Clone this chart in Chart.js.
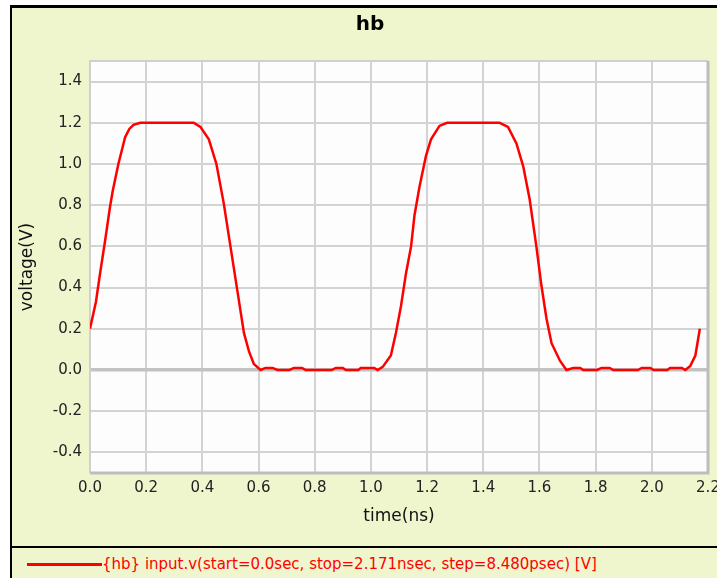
<!DOCTYPE html>
<html>
<head>
<meta charset="utf-8">
<script src="https://cdn.jsdelivr.net/npm/chart.js@4.4.1/dist/chart.umd.min.js"></script>
<style>
  html, body { margin: 0; padding: 0; background: #fff; }
  body { width: 717px; height: 578px; position: relative; overflow: hidden; font-family: "DejaVu Sans", sans-serif; }
  .frame { position: absolute; left: 10px; top: 5px; right: 0; bottom: 0; background: #eff5cc;
           border-top: 3px solid #000; border-left: 2px solid #000; }
  .sep { position: absolute; left: 12px; right: 0; top: 546px; height: 2px; background: #000; }
  #chart { position: absolute; left: 0; top: 0; }
  .legend { position: absolute; left: 27px; top: 554px; height: 20px; display: flex; align-items: center;
            color: #ff0000; font-size: 15px; white-space: nowrap; }
  .legend .swatch { width: 75px; height: 3px; background: #ff0000; }
</style>
</head>
<body>
<div class="frame"></div>
<div class="sep"></div>
<canvas id="chart" width="717" height="546"></canvas>
<div class="legend"><span class="swatch"></span><span>{hb} input.v(start=0.0sec, stop=2.171nsec, step=8.480psec) [V]</span></div>
<script>
// waveform (time in ns, voltage in V)
const timeNs = [0.000, 0.021, 0.036, 0.054, 0.071, 0.081, 0.101, 0.125, 0.140, 0.155, 0.179, 0.369, 0.393, 0.423, 0.450,
  0.476, 0.500, 0.524, 0.548, 0.566, 0.583, 0.607, 0.625, 0.650, 0.667, 0.710, 0.726, 0.755, 0.768, 0.860, 0.875,
  0.900, 0.911, 0.955, 0.964, 1.012, 1.024, 1.042, 1.071, 1.089, 1.107, 1.125, 1.143, 1.155, 1.173, 1.196, 1.214,
  1.244, 1.271, 1.458, 1.488, 1.518, 1.542, 1.565, 1.589, 1.607, 1.625, 1.643, 1.673, 1.696, 1.720, 1.745, 1.756,
  1.805, 1.821, 1.850, 1.863, 1.950, 1.964, 1.995, 2.006, 2.055, 2.065, 2.107, 2.119, 2.137, 2.155, 2.171];
const voltage = [0.20, 0.33, 0.47, 0.63, 0.79, 0.87, 1.00, 1.13, 1.17, 1.19, 1.20, 1.20, 1.18, 1.12, 1.00,
  0.81, 0.60, 0.39, 0.18, 0.09, 0.03, 0.00, 0.01, 0.01, 0.00, 0.00, 0.01, 0.01, 0.00, 0.00, 0.01,
  0.01, 0.00, 0.00, 0.01, 0.01, 0.00, 0.015, 0.07, 0.18, 0.31, 0.47, 0.60, 0.75, 0.89, 1.04, 1.12,
  1.185, 1.20, 1.20, 1.18, 1.10, 0.99, 0.83, 0.60, 0.41, 0.25, 0.13, 0.045, 0.00, 0.01, 0.01, 0.00,
  0.00, 0.01, 0.01, 0.00, 0.00, 0.01, 0.01, 0.00, 0.00, 0.01, 0.01, 0.00, 0.02, 0.07, 0.20];

const xTicks = [0.0, 0.2, 0.4, 0.6, 0.8, 1.0, 1.2, 1.4, 1.6, 1.8, 2.0, 2.2];
const yTicks = [-0.4, -0.2, 0.0, 0.2, 0.4, 0.6, 0.8, 1.0, 1.2, 1.4];

const plotFrame = {
  id: 'plotFrame',
  beforeDraw(chart) {
    const { ctx, chartArea: a } = chart;
    ctx.save();
    ctx.fillStyle = '#fdfdfd';
    ctx.fillRect(a.left, a.top, a.right - a.left, a.bottom - a.top);
    ctx.restore();
  },
  beforeDatasetsDraw(chart) {
    const { ctx, chartArea: a } = chart;
    ctx.save();
    ctx.strokeStyle = '#d0d0d0';
    ctx.lineWidth = 2;
    ctx.beginPath();
    ctx.moveTo(a.left, a.bottom);
    ctx.lineTo(a.left, a.top);
    ctx.lineTo(a.right, a.top);
    ctx.stroke();
    ctx.strokeStyle = '#bdbdbd';
    ctx.lineWidth = 3;
    ctx.beginPath();
    ctx.moveTo(a.right, a.top);
    ctx.lineTo(a.right, a.bottom);
    ctx.lineTo(a.left, a.bottom);
    ctx.stroke();
    ctx.restore();
  }
};

const tickFont = { family: 'DejaVu Sans', size: 15 };
const titleFont = { family: 'DejaVu Sans', size: 17 };

new Chart(document.getElementById('chart'), {
  type: 'line',
  data: {
    datasets: [{
      label: 'input.v',
      data: timeNs.map((t, i) => ({ x: t, y: voltage[i] })),
      borderColor: '#ff0000',
      borderWidth: 2.5,
      pointRadius: 0,
      tension: 0,
      fill: false
    }]
  },
  options: {
    responsive: false,
    animation: false,
    devicePixelRatio: 1,
    layout: { padding: { left: 32, right: 9, top: 0, bottom: 0 } },
    plugins: {
      legend: { display: false },
      tooltip: { enabled: false },
      title: {
        display: true,
        text: 'hb',
        color: '#000',
        font: { family: 'DejaVu Sans', size: 20, weight: 'bold' },
        padding: { top: 13, bottom: 24 }
      }
    },
    scales: {
      x: {
        type: 'linear',
        min: 0,
        max: 2.2,
        afterBuildTicks: s => { s.ticks = xTicks.map(v => ({ value: v })); },
        afterFit: s => { s.height = 73; s.paddingLeft = 0; s.paddingRight = 0; },
        ticks: { color: '#222', font: tickFont, padding: 6, maxRotation: 0, autoSkip: false,
                 callback: v => Number(v).toFixed(1) },
        grid: { color: '#d3d3d3', lineWidth: 2, drawTicks: false },
        border: { display: false },
        title: { display: true, text: 'time(ns)', color: '#111', font: titleFont, padding: { top: 0, bottom: 19 } }
      },
      y: {
        min: -0.5,
        max: 1.5,
        afterBuildTicks: s => { s.ticks = yTicks.map(v => ({ value: v })); },
        afterFit: s => { s.width = 58; },
        ticks: { color: '#222', font: tickFont, padding: 8, callback: v => Number(v).toFixed(1) },
        grid: {
          drawTicks: false,
          color: c => (c.tick && c.tick.value === 0 ? '#c2c2c2' : '#d3d3d3'),
          lineWidth: c => (c.tick && c.tick.value === 0 ? 3.5 : 2)
        },
        border: { display: false },
        title: { display: true, text: 'voltage(V)', color: '#111', font: titleFont, padding: { top: -15, bottom: 0 } }
      }
    }
  },
  plugins: [plotFrame]
});
</script>
</body>
</html>
